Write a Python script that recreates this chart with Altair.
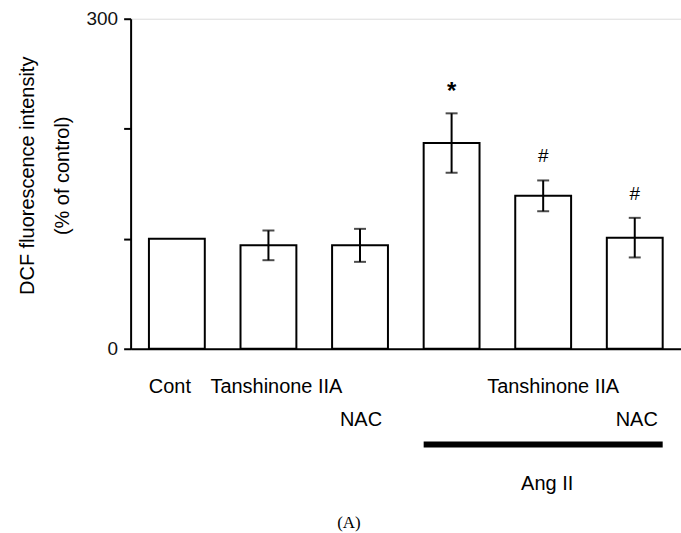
import altair as alt
import pandas as pd

# ---- data ----
groups = ["Cont", "Tan", "NAC", "AngII", "AngII+Tan", "AngII+NAC"]
means = [100, 94, 94, 187, 139, 101]
errors = [0, 13.5, 15, 27, 14, 18]
marks = ["", "", "", "*", "#", "#"]

label_texts = ["Cont", "Tanshinone IIA", "NAC", "Tanshinone IIA", "NAC"]
label_groups = ["Cont", "Tan", "NAC", "AngII+Tan", "AngII+NAC"]
label_rows = [0, 0, 1, 0, 1]

bracket_from = ["AngII"]
bracket_to = ["AngII+NAC"]
bracket_text = ["Ang II"]
panel_text = ["(A)"]

y_ticks = [0, 100, 200, 300]

df = pd.DataFrame({"g": groups, "m": means, "e": errors, "s": marks})
df["lo"] = df["m"] - df["e"]
df["hi"] = df["m"] + df["e"]
err_df = df[df["e"] > 0]
star_df = df[df["s"] == "*"]
hash_df = df[df["s"] == "#"]

FONT = "Liberation Sans"

xscale = alt.Scale(domain=groups, paddingInner=0.39, paddingOuter=0.2)
yscale = alt.Scale(domain=[0, 300], nice=False)

x_axis = alt.Axis(labels=False, ticks=False, title=None, grid=False,
                  domainColor="black", domainWidth=2)
y_axis = alt.Axis(values=y_ticks,
                  labelExpr="(datum.value == 0 || datum.value == 300) ? datum.label : ''",
                  title=["DCF fluorescence intensity", "(% of control)"],
                  titleFontSize=20, titleFont=FONT, titleFontWeight="normal",
                  titleLineHeight=35, titlePadding=14, titleColor="black", titleY=157,
                  labelFontSize=19, labelFont=FONT, labelColor="#111",
                  labelPadding=6, tickSize=7, tickWidth=2, tickColor="black",
                  domainColor="black", domainWidth=2, grid=False)


def X(field="g"):
    return alt.X(f"{field}:N", scale=xscale, sort=groups, axis=x_axis)


def Y(field):
    return alt.Y(f"{field}:Q", scale=yscale, axis=y_axis)


bars = alt.Chart(df).mark_bar(fill="white", stroke="black", strokeWidth=2).encode(
    x=X(), y=Y("m"))

eb = alt.Chart(err_df)
err_rule = eb.mark_rule(color="black", strokeWidth=2).encode(x=X(), y=Y("lo"), y2="hi:Q")
cap_hi = eb.mark_tick(color="black", thickness=2, size=12, orient="horizontal").encode(
    x=X(), y=Y("hi"))
cap_lo = eb.mark_tick(color="black", thickness=2, size=12, orient="horizontal").encode(
    x=X(), y=Y("lo"))

star = alt.Chart(star_df).mark_text(font=FONT, fontSize=24, fontWeight="bold", color="black",
                                    baseline="middle", dy=-21).encode(
    x=X(), y=Y("hi"), text="s:N")
hashes = alt.Chart(hash_df).mark_text(font=FONT, fontSize=19, color="black",
                                      baseline="middle", dy=-24).encode(
    x=X(), y=Y("hi"), text="s:N")

# category labels under the axis
row_y = [369, 402]
label_dx = [-7, 8, 1, 10, 2]
label_layers = []
for t, g, r, dx in zip(label_texts, label_groups, label_rows, label_dx):
    ldf = pd.DataFrame({"g": [g], "t": [t]})
    label_layers.append(
        alt.Chart(ldf).mark_text(font=FONT, fontSize=20, color="black", baseline="middle",
                                 dx=dx).encode(
            x=X(), y=alt.value(row_y[r]), text="t:N"))

bdf = pd.DataFrame({"a": bracket_from, "b": bracket_to, "t": bracket_text})
bracket = alt.Chart(bdf).mark_rule(color="black", strokeWidth=6, strokeCap="butt").encode(
    x=alt.X("a:N", scale=xscale, sort=groups, bandPosition=0, axis=x_axis),
    x2=alt.X2("b:N", bandPosition=1),
    y=alt.value(427))
bracket_lbl = alt.Chart(pd.DataFrame({"g": ["AngII+Tan"], "t": bracket_text})).mark_text(
    font=FONT, fontSize=20, color="black", baseline="middle", dx=4).encode(
    x=X(), y=alt.value(467), text="t:N")

panel = alt.Chart(pd.DataFrame({"t": panel_text})).mark_text(
    font="Liberation Serif", fontSize=17, color="black", baseline="middle").encode(
    x=alt.value(219), y=alt.value(506), text="t:N")

chart = alt.layer(bars, err_rule, cap_hi, cap_lo, star, hashes, *label_layers, bracket,
                  bracket_lbl, panel).properties(
    width=552, height=331,
    autosize=alt.AutoSizeParams(type="none"),
    padding={"left": 131, "top": 18, "right": 0, "bottom": 184},
).configure_view(stroke=None).configure_axis(
    grid=False, labelFontSize=19, labelFont=FONT, labelColor="#111"
).configure(background="white")

chart.save("out.html", embed_options={"renderer": "svg", "actions": False})
